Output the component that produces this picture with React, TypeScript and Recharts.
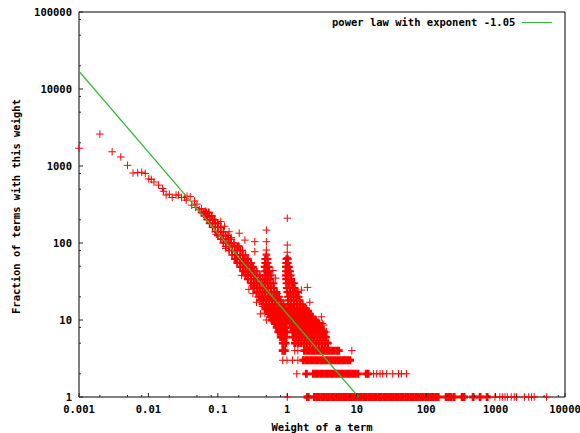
import React from "react";
import { ScatterChart, Scatter, XAxis, YAxis, Legend } from "recharts";

const majorX = [0.001, 0.01, 0.1, 1, 10, 100, 1000, 10000];
const majorY = [1, 10, 100, 1000, 10000, 100000];
const minorSteps = [2, 5, 8];
const xLabels = ["0.001", "0.01", "0.1", "1", "10", "100", "1000", "10000"];
const yLabels = ["1", "10", "100", "1000", "10000", "100000"];

const powerLawEnds = [
  { x: 0.001, y: 17000 },
  { x: 10.6, y: 1 },
];

const tailPoints: [number, number][] = [
  [0.001, 1700], [0.002, 2600], [0.003, 1530], [0.004, 1310], [0.005, 1020], [0.006, 810], [0.007, 820],
  [0.008, 830], [0.009, 800], [0.0101, 680], [0.011, 670], [0.012, 620], [0.014, 565], [0.016, 510],
  [0.0165, 470], [0.018, 420], [0.02, 430], [0.022, 390], [0.025, 420], [0.027, 420], [0.03, 390],
  [0.033, 390], [0.036, 405], [0.04, 400], [0.035, 360], [0.042, 310], [0.046, 350], [0.05, 320],
  [0.054, 270], [0.058, 280], [0.048, 290], [0.062, 240], [0.066, 260], [0.07, 215],
];

const sparsePoints: [number, number][] = [
  [0.203, 134], [0.245, 109], [0.34, 104], [0.34, 77], [0.5, 147], [0.5, 104], [0.5, 81], [0.5, 72],
  [1, 210], [1, 94], [1, 76], [1, 65], [0.68, 35], [1.95, 26.5], [2.11, 17], [3.1, 11], [3.35, 8.6],
  [3.66, 7], [3.2, 9], [1.6, 24.5], [0.475, 12.3], [0.5, 10], [0.32, 28], [0.32, 22], [0.44, 15], [0.38, 20],
  [3.4, 6], [3.9, 5], [8.5, 4], [1.37, 2], [17.5, 2], [19.4, 2], [21.7, 2], [23.7, 2], [27, 2], [33, 2],
  [40, 2], [44, 2], [52, 2], [0.86, 3], [0.99, 3], [1.19, 3], [1.42, 3], [1.28, 4], [1.42, 4], [1, 1],
  [980, 1], [1150, 1], [1250, 1], [1370, 1], [1480, 1], [1680, 1], [1860, 1], [2000, 1], [2600, 1],
  [3000, 1], [3300, 1], [3600, 1], [5400, 1],
  [0.27, 42], [0.24, 62], [0.2, 92], [0.155, 118], [0.125, 165], [0.11, 190], [0.3, 34], [0.28, 25], [0.36, 17],
  [0.41, 12], [0.62, 44], [0.72, 22], [0.085, 205], [0.095, 130], [0.13, 85], [0.18, 62], [0.22, 38], [0.145, 140],
];

const levelOne = [
  1.95, 2.0, 2.45, 2.66, 2.88, 3.13, 3.4, 3.69, 4.0, 4.35, 4.72, 5.12, 5.56, 6.04, 6.55, 7.11, 7.72, 8.38,
  9.1, 9.88, 10.7, 11.6, 12.6, 13.7, 14.9, 16.2, 17.5, 19, 20.7, 22.4, 24.4, 26.4, 28.7, 31.2, 33.8, 36.7,
  39.9, 43.3, 47, 51, 55.4, 60.1, 65.3, 70.9, 77, 83.6, 90.8, 98.6, 107, 116, 126, 137, 149, 194, 211, 229,
  253, 330, 352, 475, 598, 755,
];
const levelTwo = [
  1.88, 2.37, 2.57, 2.79, 3.03, 3.29, 3.57, 3.88, 4.21, 4.57, 4.96, 5.39, 5.85, 6.35, 6.9, 7.49, 8.13, 8.83,
  9.58, 10.4, 13.7, 14.6,
];
const levelThree = [
  1.7, 1.85, 2.0, 2.17, 2.36, 2.56, 2.78, 3.02, 3.28, 3.56, 3.86, 4.2, 4.55, 4.94, 5.37, 5.83, 6.33, 6.87,
  7.45, 8.0,
];
const levelFour = [
  0.86, 0.92, 1.76, 1.91, 2.08, 2.26, 2.45, 2.66, 2.89, 3.14, 3.41, 3.7, 4.02, 4.36, 4.74, 5.14, 5.5,
];

const lowerRows: [number, number[]][] = [
  [5, [0.86, 0.95, 1.28, 1.42, 1.56, 1.73, 1.91, 2.11, 2.33, 2.57, 2.84, 3.14, 3.47, 3.83]],
  [6, [0.8, 0.88, 0.96, 1.22, 1.34, 1.48, 1.62, 1.8, 1.98, 2.2, 2.42, 2.68, 2.96, 3.28, 3.62]],
  [7, [0.74, 0.82, 0.9, 0.98, 1.2, 1.3, 1.44, 1.58, 1.75, 1.93, 2.13, 2.35, 2.6, 2.87, 3.17, 3.4]],
  [8, [0.7, 0.78, 0.86, 0.94, 1.14, 1.26, 1.38, 1.52, 1.68, 1.86, 2.05, 2.26, 2.5, 2.76, 3.05]],
  [9, [0.66, 0.73, 0.8, 0.88, 0.97, 1.1, 1.22, 1.34, 1.48, 1.63, 1.8, 1.99, 2.2, 2.42, 2.68, 2.85]],
  [10, [0.6, 0.66, 0.73, 0.8, 0.88, 0.97, 1.08, 1.18, 1.3, 1.44, 1.58, 1.75, 1.93, 2.13, 2.35, 2.55]],
  [11, [0.58, 0.64, 0.7, 0.78, 0.86, 0.94, 1.06, 1.16, 1.28, 1.4, 1.55, 1.7, 1.88, 2.07, 2.3]],
  [12, [0.54, 0.6, 0.66, 0.72, 0.8, 0.88, 0.96, 1.06, 1.16, 1.28, 1.42, 1.56, 1.72, 1.9, 2.1]],
  [13, [0.52, 0.57, 0.63, 0.7, 0.77, 0.85, 0.93, 1.05, 1.15, 1.27, 1.4, 1.54, 1.7, 1.87, 2.0]],
  [14, [0.48, 0.53, 0.58, 0.64, 0.71, 0.78, 0.86, 0.94, 1.05, 1.15, 1.26, 1.4, 1.54, 1.7, 1.85]],
];

const middleRows: [number, number[]][] = [
  [16, [0.44, 0.49, 0.54, 0.6, 0.66, 0.72, 0.8, 0.88, 1.03, 1.13, 1.25, 1.38, 1.52, 1.66]],
  [18, [0.41, 0.45, 0.5, 0.55, 0.6, 0.66, 0.73, 0.8, 1.03, 1.13, 1.24, 1.37, 1.5]],
  [20, [0.39, 0.43, 0.47, 0.52, 0.57, 0.63, 0.69, 0.76, 1.02, 1.12, 1.23, 1.35, 1.46]],
  [23, [0.36, 0.4, 0.44, 0.48, 0.53, 0.58, 0.64, 0.7, 1.0, 1.1, 1.21, 1.32, 1.4]],
  [26, [0.33, 0.37, 0.4, 0.44, 0.48, 0.53, 0.58, 0.64, 0.98, 1.08, 1.19, 1.28]],
  [30, [0.3, 0.33, 0.36, 0.4, 0.44, 0.48, 0.52, 0.57, 0.63, 0.97, 1.06, 1.16, 1.25]],
  [34, [0.27, 0.3, 0.33, 0.36, 0.4, 0.44, 0.48, 0.52, 0.57, 0.96, 1.04, 1.14]],
  [38, [0.25, 0.275, 0.3, 0.33, 0.36, 0.4, 0.49, 0.53, 0.58, 0.95, 1.03, 1.12]],
  [43, [0.23, 0.25, 0.275, 0.3, 0.33, 0.36, 0.47, 0.51, 0.55, 0.95, 1.02, 1.1]],
  [49, [0.21, 0.23, 0.25, 0.275, 0.3, 0.32, 0.47, 0.5, 0.54, 0.95, 1.0, 1.06]],
  [55, [0.19, 0.21, 0.23, 0.25, 0.27, 0.3, 0.48, 0.52, 0.96, 1.02]],
  [62, [0.175, 0.19, 0.21, 0.23, 0.25, 0.27, 0.48, 0.52, 0.97, 1.02]],
];

const upperRows: [number, number[]][] = [
  [70, [0.16, 0.175, 0.19, 0.21, 0.23, 0.25, 0.5]],
  [80, [0.145, 0.16, 0.175, 0.19, 0.21, 0.225]],
  [90, [0.13, 0.145, 0.16, 0.175, 0.19, 0.2]],
  [100, [0.12, 0.13, 0.145, 0.155, 0.17]],
  [112, [0.11, 0.12, 0.13, 0.14, 0.155]],
  [125, [0.1, 0.11, 0.12, 0.13, 0.14]],
  [140, [0.092, 0.1, 0.11, 0.12]],
  [160, [0.084, 0.092, 0.1, 0.11]],
  [180, [0.076, 0.084, 0.092, 0.1]],
  [200, [0.07, 0.076, 0.084, 0.09]],
  [225, [0.064, 0.07, 0.076, 0.082]],
  [250, [0.058, 0.063, 0.068, 0.074]],
];

const FONT = "'DejaVu Sans Mono', monospace";
const WIDTH = 580;
const HEIGHT = 433;

const toPoints = (pairs: [number, number][]) => pairs.map(([x, y]) => ({ x, y }));
const levelPoints = (y: number, xs: number[]) => xs.map((x) => ({ x, y }));
const rowPoints = (rows: [number, number[]][]) => rows.flatMap(([y, xs]) => levelPoints(y, xs));

const bandPoints = [
  ...levelPoints(1, levelOne),
  ...levelPoints(2, levelTwo),
  ...levelPoints(3, levelThree),
  ...levelPoints(4, levelFour),
];
const thinPoints = [...toPoints(tailPoints), ...toPoints(sparsePoints)];

const withMinors = (majors: number[]) => {
  const all: number[] = [];
  majors.forEach((m, i) => {
    all.push(m);
    if (i < majors.length - 1) minorSteps.forEach((s) => all.push(Number((m * s).toPrecision(3))));
  });
  return all;
};
const xTicks = withMinors(majorX);
const yTicks = withMinors(majorY);
const tickLabel = (value: number, majors: number[], labels: string[]) => {
  const i = majors.indexOf(value);
  return i >= 0 ? labels[i] : null;
};

const Plus = (strokeWidth: number, arm: number) => (props: any) => {
  const { cx, cy } = props;
  if (cx == null || cy == null) return <g />;
  return (
    <path
      d={`M${cx - arm} ${cy}H${cx + arm}M${cx} ${cy - arm}V${cy + arm}`}
      stroke="#ff0000"
      strokeWidth={strokeWidth}
      fill="none"
    />
  );
};

const HTick = ({ x, y, payload, side }: any) => {
  const major = majorX.includes(payload.value);
  const len = major ? 4 : 2;
  const dir = side === "bottom" ? -1 : 1;
  const label = tickLabel(payload.value, majorX, xLabels);
  return (
    <g>
      <line x1={x} x2={x} y1={y} y2={y + dir * len} stroke="#222" />
      {side === "bottom" && label ? (
        <text x={x} y={y + 16} textAnchor="middle" fontFamily={FONT} fontWeight="bold" fontSize={10.5} fill="#000">
          {label}
        </text>
      ) : null}
    </g>
  );
};

const VTick = ({ x, y, payload, side }: any) => {
  const major = majorY.includes(payload.value);
  const len = major ? 4 : 2;
  const dir = side === "left" ? 1 : -1;
  const label = tickLabel(payload.value, majorY, yLabels);
  return (
    <g>
      <line x1={x} x2={x + dir * len} y1={y} y2={y} stroke="#222" />
      {side === "left" && label ? (
        <text x={x - 7} y={y + 4} textAnchor="end" fontFamily={FONT} fontWeight="bold" fontSize={10.5} fill="#000">
          {label}
        </text>
      ) : null}
    </g>
  );
};

const GREEN = "#35b835";

const LegendBox = () => (
  <div
    style={{
      position: "absolute",
      left: 332,
      top: 15,
      display: "flex",
      alignItems: "center",
      fontFamily: FONT,
      fontWeight: "bold",
      fontSize: 10.5,
      lineHeight: "14px",
      color: "#000",
      whiteSpace: "nowrap",
    }}
  >
    <span>power law with exponent -1.05</span>
    <span style={{ display: "inline-block", width: 30, height: 1, background: GREEN, marginLeft: 7 }} />
  </div>
);

const axisLine = { stroke: "#000", strokeWidth: 1 };
const titleStyle = { fontFamily: FONT, fontWeight: "bold", fontSize: 10.5, fill: "#000" };

export default function App() {
  return (
    <div style={{ position: "absolute", left: 0, top: 0, width: WIDTH, height: HEIGHT, background: "#fff" }}>
      <ScatterChart width={WIDTH} height={HEIGHT} margin={{ top: 0, right: 0, bottom: 0, left: 0 }}>
        <XAxis
          xAxisId="b"
          type="number"
          dataKey="x"
          scale="log"
          domain={[0.001, 10000]}
          ticks={xTicks}
          interval={0}
          height={36}
          axisLine={axisLine}
          tickLine={false}
          tick={(p: any) => <HTick {...p} y={397} side="bottom" />}
          label={{ value: "Weight of a term", position: "insideBottom", offset: 2, style: titleStyle }}
        />
        <XAxis
          xAxisId="t"
          orientation="top"
          type="number"
          dataKey="x"
          scale="log"
          domain={[0.001, 10000]}
          ticks={xTicks}
          interval={0}
          height={12}
          axisLine={axisLine}
          tickLine={false}
          tick={(p: any) => <HTick {...p} y={12} side="top" />}
        />
        <YAxis
          yAxisId="l"
          type="number"
          dataKey="y"
          scale="log"
          domain={[1, 100000]}
          ticks={yTicks}
          interval={0}
          width={79}
          axisLine={axisLine}
          tickLine={false}
          tick={(p: any) => <VTick {...p} x={79} side="left" />}
          label={{
            value: "Fraction of terms with this weight",
            angle: -90,
            position: "insideLeft",
            offset: 16,
            dy: 2,
            style: { ...titleStyle, textAnchor: "middle" },
          }}
        />
        <YAxis
          yAxisId="r"
          orientation="right"
          type="number"
          dataKey="y"
          scale="log"
          domain={[1, 100000]}
          ticks={yTicks}
          interval={0}
          width={15}
          axisLine={axisLine}
          tickLine={false}
          tick={(p: any) => <VTick {...p} x={565} side="right" />}
        />
        <Scatter name="terms at counts 1 to 4" xAxisId="b" yAxisId="l" data={bandPoints} isAnimationActive={false} shape={Plus(2.8, 4)} legendType="none" />
        <Scatter name="terms at counts 5 to 14" xAxisId="b" yAxisId="l" data={rowPoints(lowerRows)} isAnimationActive={false} shape={Plus(2.8, 3.8)} legendType="none" />
        <Scatter name="terms at counts 16 to 62" xAxisId="b" yAxisId="l" data={rowPoints(middleRows)} isAnimationActive={false} shape={Plus(2.1, 3.8)} legendType="none" />
        <Scatter name="terms at counts above 62" xAxisId="b" yAxisId="l" data={rowPoints(upperRows)} isAnimationActive={false} shape={Plus(1.6, 3.8)} legendType="none" />
        <Scatter name="sparse terms" xAxisId="b" yAxisId="l" data={thinPoints} isAnimationActive={false} shape={Plus(1, 3.8)} legendType="none" />
        <Scatter
          name="power law with exponent -1.05"
          xAxisId="b"
          yAxisId="l"
          data={powerLawEnds}
          isAnimationActive={false}
          line={{ stroke: GREEN, strokeWidth: 1.2 }}
          shape={() => <g />}
        />
        <Legend content={() => <LegendBox />} wrapperStyle={{ position: "absolute", left: 0, top: 0, width: 0, height: 0 }} />
      </ScatterChart>
    </div>
  );
}
